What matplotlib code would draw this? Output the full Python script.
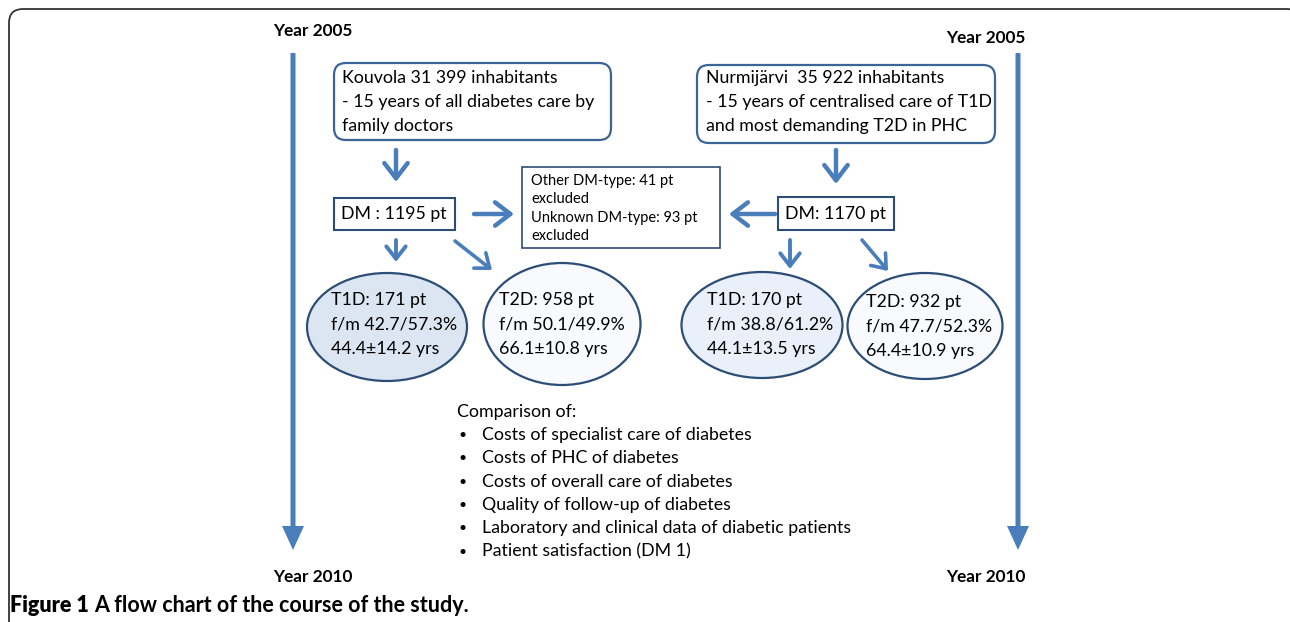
import matplotlib
matplotlib.use("Agg")
import matplotlib.pyplot as plt
from matplotlib.patches import FancyBboxPatch, Rectangle, Ellipse, FancyArrow

plt.rcParams['font.family'] = ['Lato', 'DejaVu Sans']

# texts of the flow chart
year_start = "Year 2005"
year_end = "Year 2010"
kouvola_lines = ["Kouvola 31 399 inhabitants",
                 "- 15 years of all diabetes care by",
                 "family doctors"]
nurmi_lines = ["Nurmijärvi  35 922 inhabitants",
               "- 15 years of centralised care of T1D",
               "and most demanding T2D in PHC"]
dm_left = "DM : 1195 pt"
dm_right = "DM: 1170 pt"
excluded_lines = ["Other DM-type: 41 pt", "excluded",
                  "Unknown DM-type: 93 pt", "excluded"]
groups = ["T1D: 171 pt", "T2D: 958 pt", "T1D: 170 pt", "T2D: 932 pt"]
female_male = ["42.7/57.3%", "50.1/49.9%", "38.8/61.2%", "47.7/52.3%"]
ages = ["44.4±14.2 yrs", "66.1±10.8 yrs", "44.1±13.5 yrs", "64.4±10.9 yrs"]
comparison_title = "Comparison of:"
comparison_items = ["Costs of specialist care of diabetes",
                    "Costs of PHC of diabetes",
                    "Costs of overall care of diabetes",
                    "Quality of follow-up of diabetes",
                    "Laboratory and clinical data of diabetic patients",
                    "Patient satisfaction (DM 1)"]
caption_bold = "Figure 1"
caption_rest = "A flow chart of the course of the study."

blue = '#4a7ebb'
dark = '#2c4d75'

fig = plt.figure(figsize=(12.9, 6.22), dpi=100)
ax = fig.add_axes([0, 0, 1, 1])
ax.set_xlim(0, 1290)
ax.set_ylim(622, 0)
ax.axis('off')

# outer frame (right side runs off the picture)
ax.add_patch(FancyBboxPatch((9, 9), 1292, 700, boxstyle="round,pad=0,rounding_size=14",
                            fc='none', ec='#333333', lw=1.3))

fs = 12.75
# time arrows
for x in [293, 1018]:
    ax.add_patch(FancyArrow(x, 53, 0, 497, width=5, head_width=22, head_length=24,
                            length_includes_head=True, color=blue, lw=0))
ax.text(313, 31, year_start, ha='center', va='center', fontsize=12.4, fontweight='bold')
ax.text(986, 38, year_start, ha='center', va='center', fontsize=12.4, fontweight='bold')
ax.text(313, 577, year_end, ha='center', va='center', fontsize=12.4, fontweight='bold')
ax.text(986, 577, year_end, ha='center', va='center', fontsize=12.4, fontweight='bold')

# town boxes
ax.add_patch(FancyBboxPatch((334, 63), 277, 77, boxstyle="round,pad=0,rounding_size=12",
                            fc='white', ec='#3b6596', lw=1.6))
ax.add_patch(FancyBboxPatch((697, 65), 298, 78, boxstyle="round,pad=0,rounding_size=12",
                            fc='white', ec='#3b6596', lw=1.6))
for i, s in enumerate(kouvola_lines):
    ax.text(342, 78 + 24 * i, s, ha='left', va='center', fontsize=fs)
for i, s in enumerate(nurmi_lines):
    ax.text(706, 78 + 24 * i, s, ha='left', va='center', fontsize=fs)

def arrow(x0, y0, x1, y1, lw=3.2, hl=0.55, hw=0.42):
    ax.annotate('', xy=(x1, y1), xytext=(x0, y0),
                arrowprops=dict(arrowstyle=f'->,head_length={hl},head_width={hw}',
                                color=blue, lw=lw, shrinkA=0, shrinkB=0,
                                mutation_scale=20))

arrow(396, 150, 396, 182)
arrow(836, 150, 836, 184)

# DM boxes
ax.add_patch(Rectangle((334, 198), 121, 32, fc='white', ec=dark, lw=1.5))
ax.add_patch(Rectangle((778, 197), 116, 33, fc='white', ec=dark, lw=1.5))
ax.text(394, 214, dm_left, ha='center', va='center', fontsize=fs)
ax.text(836, 214, dm_right, ha='center', va='center', fontsize=fs)

# excluded box
ax.add_patch(Rectangle((522, 167), 198, 81, fc='white', ec=dark, lw=1.2))
for i, s in enumerate(excluded_lines):
    ax.text(531, 181 + 18.3 * i, s, ha='left', va='center', fontsize=10.5)

arrow(474, 214, 514, 214)
arrow(775, 214, 729, 214)
arrow(396, 240, 396, 262, lw=2.8, hl=0.45, hw=0.35)
arrow(455, 241, 492, 270, lw=2.6, hl=0.45, hw=0.35)
arrow(790, 240, 790, 269, lw=2.8, hl=0.45, hw=0.35)
arrow(862, 240, 888, 271, lw=2.6, hl=0.45, hw=0.35)

# patient groups
centers = [(387, 327), (562, 324), (762, 325), (925, 326)]
sizes = [(160, 108), (157, 122), (161, 106), (155, 106)]
fills = ['#dce6f2', '#f8fafd', '#e9f0f9', '#f8fafd']
text_x = [331, 499, 707, 866]
text_y = [300, 300, 300, 302]
for i in range(4):
    ax.add_patch(Ellipse(centers[i], sizes[i][0], sizes[i][1], fc=fills[i], ec=dark, lw=1.6))
    lines = [groups[i], "f/m " + female_male[i], ages[i]]
    for j, s in enumerate(lines):
        ax.text(text_x[i], text_y[i] + 24.5 * j, s, ha='left', va='center', fontsize=fs)

# comparison list
ax.text(457, 412, comparison_title, ha='left', va='center', fontsize=fs)
for i, s in enumerate(comparison_items):
    y = 435 + 23.3 * i
    ax.text(459, y, "•", ha='left', va='center', fontsize=10)
    ax.text(482, y, s, ha='left', va='center', fontsize=fs)

# caption
t = ax.text(10, 606, caption_bold + " ", ha='left', va='center', fontsize=15.5, fontweight='heavy')
fig.canvas.draw()
x_end = ax.transData.inverted().transform((t.get_window_extent().x1, 0))[0]
ax.text(x_end, 606, caption_rest, ha='left', va='center', fontsize=15.5, fontweight='bold')
fig.savefig("out.png", dpi=100)
